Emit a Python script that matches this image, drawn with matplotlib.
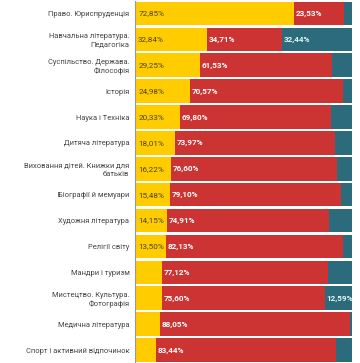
import matplotlib
matplotlib.use("Agg")
import matplotlib.pyplot as plt
import numpy as np

categories = [
    "Право. Юриспруденція",
    "Навчальна література.\nПедагогіка",
    "Суспільство. Держава.\nФілософія",
    "Історія",
    "Наука і Техніка",
    "Дитяча література",
    "Виховання дітей. Книжки для\nбатьків",
    "Біографії й мемуари",
    "Художня література",
    "Релігії світу",
    "Мандри і туризм",
    "Мистецтво. Культура.\nФотографія",
    "Медична література",
    "Спорт і активний відпочинок",
]
yellow = [72.85, 32.84, 29.25, 24.98, 20.33, 18.01, 16.22, 15.48, 14.15, 13.50, 11.70, 11.81, 10.75, 8.96]
red = [23.53, 34.71, 61.53, 70.57, 69.80, 73.97, 76.60, 79.10, 74.91, 82.13, 77.12, 75.60, 88.05, 83.44]
teal = [3.62, 32.44, 9.22, 4.45, 9.87, 8.02, 7.18, 5.42, 10.94, 4.37, 11.18, 12.59, 1.20, 7.60]

colors = ["#FFCC00", "#CC3333", "#2B6B7B"]
text_colors = ["#4a4030", "white", "#e8f4f8"]
threshold = 12.0

plt.rcParams['font.family'] = ['Roboto', 'DejaVu Sans']

fig = plt.figure(figsize=(3.6, 3.63), dpi=100)
ax = fig.add_axes([0.379, 0.0, 0.9786 - 0.379, 0.9985])

y = np.arange(len(categories))
left = np.zeros(len(categories))
for vals, c, tc, bold in zip([yellow, red, teal], colors, text_colors, [False, True, True]):
    vals = np.array(vals)
    ax.barh(y, vals, left=left, color=c, height=0.91, edgecolor='none')
    for i, v in enumerate(vals):
        if v >= threshold:
            ax.text(left[i] + 0.8, y[i], f"{v:.2f}%".replace('.', ','),
                    va='center', ha='left', fontsize=5.9, color=tc,
                    fontweight='bold' if bold else 'normal')
    left = left + vals

ax.set_xlim(0, 100)
ax.set_ylim(len(categories) - 0.5, -0.5)
ax.set_xticks([])
ax.tick_params(axis='y', length=0, pad=4, labelsize=5.4, labelcolor='#444444')
ax.set_yticks(y)
ax.set_yticklabels(categories, linespacing=1.2)
for lbl in ax.get_yticklabels():
    lbl.set_fontsize(5.4)
for s in ['top', 'right', 'bottom']:
    ax.spines[s].set_visible(False)
ax.spines['left'].set_color('#999999')
ax.spines['left'].set_linewidth(0.8)
ax.spines['left'].set_position(('outward', 1))

fig.savefig("out.png", dpi=100)
